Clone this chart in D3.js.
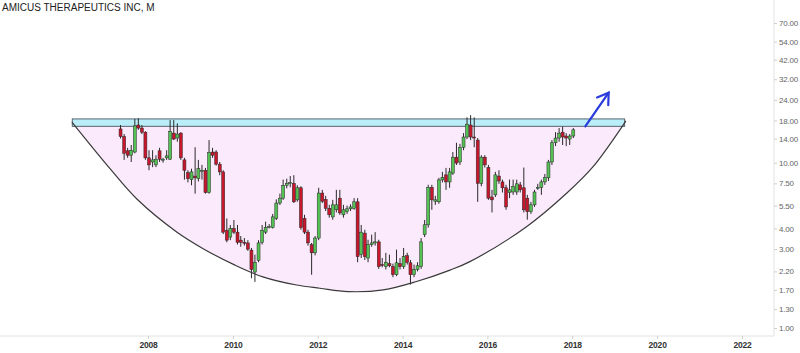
<!DOCTYPE html>
<html>
<head>
<meta charset="utf-8">
<script src="https://cdn.jsdelivr.net/npm/d3@7"></script>
<style>
  body { margin: 0; background: #fff; }
  svg { display: block; }
  .title { font-family: "Liberation Sans", Arial, sans-serif; font-size: 10px; fill: #222; }
  .y-axis text { font-family: "Liberation Sans", Arial, sans-serif; font-size: 8px; letter-spacing: -0.2px; fill: #666; }
  .x-axis text { font-family: "Liberation Sans", Arial, sans-serif; font-size: 8.5px; font-weight: bold; letter-spacing: -0.2px; fill: #333; }
</style>
</head>
<body>
<svg id="chart"></svg>
<script>
// monthly candles, first one is May 2007
const firstMonth = "2007-05-01";

const opens = [
  16.0, 14.4, 11.8, 11.1, 11.6, 16.9, 16.2, 15.3, 10.7, 10.1,
  9.7, 11.8, 10.4, 10.7, 10.5, 15.1, 14.1, 15.1, 10.4, 8.7,
  7.9, 8.3, 8.0, 8.9, 9.0, 6.6, 11.6, 11.6, 9.8, 8.8,
  3.9, 3.55, 4.0, 3.8, 3.4, 3.3, 3.27, 2.96, 2.18, 2.57,
  3.3, 3.8, 4.05, 4.05, 4.6, 5.7, 6.1, 7.3, 7.5, 7.5,
  5.96, 7.05, 4.6, 3.8, 3.19, 2.85, 3.5, 6.55, 6.0, 5.3,
  4.7, 5.19, 6.1, 4.84, 5.05, 5.26, 5.3, 5.8, 2.78, 3.75,
  2.65, 3.19, 3.27, 3.32, 2.42, 2.35, 2.45, 2.35, 2.1, 2.45,
  2.35, 2.74, 2.48, 2.1, 2.26, 2.35, 3.67, 4.21, 7.1, 5.85,
  5.8, 7.87, 8.44, 7.65, 8.65, 10.8, 10.1, 12.4, 14.3, 16.9,
  14.3, 13.7, 7.5, 10.8, 9.35, 6.2, 6.39, 8.3, 7.65, 7.05,
  6.6, 6.65, 6.65, 7.34, 7.05, 6.1, 5.05, 5.56, 7.05, 7.1,
  7.65, 8.1, 10.1, 13.2, 14.1, 15.3, 14.5, 13.9, 14.5
];
const highs = [
  16.9, 14.9, 12.3, 12.8, 18.4, 18.6, 16.9, 15.5, 11.9, 11.9,
  11.1, 12.3, 10.7, 11.9, 18.1, 18.1, 17.3, 15.3, 10.7, 9.0,
  9.2, 12.4, 10.4, 9.7, 9.3, 13.7, 12.3, 11.9, 10.1, 9.0,
  4.6, 4.2, 4.5, 4.2, 3.6, 3.5, 3.4, 3.05, 2.78, 3.4,
  4.2, 4.4, 4.25, 4.9, 6.0, 6.5, 7.9, 8.0, 8.3, 8.4,
  7.3, 7.2, 4.84, 3.93, 3.27, 3.6, 7.05, 6.85, 6.3, 5.56,
  5.96, 6.85, 6.85, 5.56, 5.5, 5.6, 6.1, 6.1, 4.2, 3.93,
  3.42, 3.67, 3.8, 3.42, 2.65, 2.85, 2.78, 2.45, 2.98, 2.65,
  3.05, 2.85, 2.58, 2.42, 2.5, 3.5, 4.5, 7.35, 7.35, 6.3,
  8.1, 8.8, 9.3, 9.3, 11.6, 13.2, 13.0, 15.1, 18.8, 19.4,
  18.8, 14.1, 11.1, 11.1, 9.7, 6.85, 8.8, 9.0, 7.9, 7.35,
  7.9, 7.9, 7.9, 7.65, 9.35, 6.39, 5.8, 6.85, 7.45, 7.9,
  8.55, 10.4, 13.7, 15.3, 16.2, 16.5, 15.1, 14.9, 16.2
];
const lows = [
  14.0, 10.4, 10.7, 10.1, 11.4, 15.8, 14.9, 10.4, 9.0, 9.4,
  9.4, 10.1, 10.0, 10.4, 10.4, 13.7, 13.4, 10.4, 7.9, 7.6,
  7.3, 6.5, 7.7, 7.9, 6.5, 6.5, 10.7, 9.6, 8.4, 3.7,
  3.3, 3.4, 3.7, 3.2, 3.1, 3.15, 2.93, 2.0, 1.9, 2.5,
  3.2, 3.7, 4.0, 4.0, 4.5, 5.55, 5.96, 7.0, 7.1, 5.7,
  5.8, 3.93, 3.7, 3.15, 2.1, 2.75, 3.4, 5.7, 5.1, 4.65,
  4.52, 5.0, 4.84, 4.65, 4.9, 5.1, 5.19, 2.5, 2.65, 2.58,
  2.5, 3.1, 3.15, 2.28, 2.33, 2.26, 2.33, 2.03, 2.06, 2.26,
  2.28, 2.42, 1.83, 2.03, 2.2, 2.28, 3.55, 4.05, 5.19, 5.56,
  5.65, 7.6, 6.85, 7.05, 8.44, 9.69, 9.69, 11.9, 13.9, 13.7,
  12.4, 5.8, 7.2, 9.35, 5.96, 5.0, 6.2, 7.45, 6.6, 5.19,
  6.1, 6.39, 6.39, 6.6, 5.0, 4.52, 4.9, 5.4, 6.85, 6.39,
  7.34, 7.75, 9.69, 12.6, 13.4, 12.8, 12.6, 12.8, 14.1
];
const closes = [
  14.4, 11.4, 11.1, 11.9, 16.7, 16.2, 15.3, 10.7, 9.7, 10.4,
  10.5, 10.5, 10.5, 11.0, 15.5, 13.9, 14.9, 10.7, 9.0, 8.0,
  8.8, 8.1, 9.2, 9.0, 6.6, 11.5, 11.1, 9.8, 8.8, 3.8,
  3.4, 4.0, 3.8, 3.3, 3.3, 3.28, 3.0, 2.26, 2.5, 3.27,
  3.9, 4.05, 4.1, 4.7, 5.7, 6.1, 7.3, 7.5, 7.6, 5.8,
  7.05, 4.05, 3.8, 3.27, 2.85, 3.5, 6.55, 5.85, 5.3, 4.84,
  5.56, 5.56, 4.97, 5.19, 5.26, 5.4, 5.8, 2.7, 3.8, 2.7,
  3.19, 3.27, 3.32, 2.35, 2.4, 2.5, 2.38, 2.1, 2.48, 2.35,
  2.7, 2.5, 2.1, 2.26, 2.38, 3.32, 4.21, 7.1, 5.96, 5.96,
  7.87, 8.15, 7.65, 8.8, 10.8, 9.95, 12.4, 14.3, 17.1, 14.3,
  14.1, 7.5, 10.8, 9.7, 6.1, 5.96, 8.44, 7.75, 7.05, 5.4,
  6.85, 7.2, 7.45, 6.85, 5.19, 5.05, 5.56, 6.65, 7.1, 7.65,
  8.15, 10.1, 13.2, 14.1, 15.1, 14.3, 14.1, 14.5, 15.8
];

const priceTicks = [100, 70, 54, 42, 32, 24, 18, 14, 10, 7.5, 5.5, 4, 3, 2.2, 1.7, 1.3, 1];
const yearTicks = ["2008", "2010", "2012", "2014", "2016", "2018", "2020", "2022"];

// rounding bottom drawn by hand on the chart
const cupDates = ["2006-03-17", "2007-02-08", "2007-09-25", "2008-09-04", "2009-04-20",
  "2010-01-19", "2010-09-16", "2011-07-03", "2012-01-20", "2012-09-18", "2013-07-18",
  "2014-05-01", "2015-02-13", "2015-08-03", "2016-12-03", "2017-11-13", "2018-06-29",
  "2019-02-15", "2019-04-07"];
const cupPrices = [17.6, 9.2, 6.05, 3.81, 3.02, 2.40, 2.04, 1.82, 1.74, 1.66, 1.70,
  1.91, 2.24, 2.52, 4.10, 6.53, 9.46, 15.8, 17.9];

// resistance band
const bandDates = ["2006-03-20", "2019-03-28"];
const bandPrices = [16.6, 18.4];

// breakout arrow
const arrowDates = ["2018-04-23", "2018-11-10"];
const arrowPrices = [16.6, 26.5];

const title = "AMICUS THERAPEUTICS INC, M";

const width = 800, height = 353;
const plotRight = 774, plotBottom = 336;
const parse = d3.timeParse("%Y-%m-%d");

const svg = d3.select("#chart")
  .attr("width", width)
  .attr("height", height);

const xScale = d3.scaleTime()
  .domain([parse("2008-01-01"), parse("2022-01-01")])
  .range([148, 742]);

const yScale = d3.scaleLog()
  .domain([1, 70])
  .range([328, 23]);

const start = parse(firstMonth);
const candles = opens.map((o, i) => ({
  date: d3.timeMonth.offset(start, i),
  open: o, high: highs[i], low: lows[i], close: closes[i]
}));

// cup fill and outline
const cup = cupDates.map((d, i) => ({date: parse(d), price: cupPrices[i]}));
const cupLine = d3.line()
  .x(d => xScale(d.date))
  .y(d => yScale(d.price))
  .curve(d3.curveCatmullRom);

svg.append("path")
  .attr("d", cupLine(cup) + "Z")
  .attr("fill", "#fbeafb");

// band
const bx0 = xScale(parse(bandDates[0])), bx1 = xScale(parse(bandDates[1]));
svg.append("rect")
  .attr("x", bx0)
  .attr("y", yScale(bandPrices[1]))
  .attr("width", bx1 - bx0)
  .attr("height", yScale(bandPrices[0]) - yScale(bandPrices[1]))
  .attr("fill", "#b9edf7")
  .attr("stroke", "#4a5563")
  .attr("stroke-width", 0.9);

// axes
svg.append("line")
  .attr("x1", 0).attr("x2", plotRight)
  .attr("y1", plotBottom).attr("y2", plotBottom)
  .attr("stroke", "#e2e2e2");
svg.append("line")
  .attr("x1", plotRight).attr("x2", plotRight)
  .attr("y1", 0).attr("y2", plotBottom)
  .attr("stroke", "#e2e2e2");

const yAxis = d3.axisRight(yScale)
  .tickValues(priceTicks)
  .tickFormat(d3.format(".2f"))
  .tickSize(3)
  .tickPadding(2);

svg.append("g")
  .attr("class", "y-axis")
  .attr("transform", `translate(${plotRight},0)`)
  .call(yAxis)
  .call(g => g.select(".domain").remove())
  .call(g => g.selectAll(".tick line").attr("stroke", "#cfcfcf"));

const xAxis = d3.axisBottom(xScale)
  .tickValues(yearTicks.map(y => parse(y + "-01-01")))
  .tickFormat(d3.timeFormat("%Y"))
  .tickSize(3)
  .tickPadding(3);

svg.append("g")
  .attr("class", "x-axis")
  .attr("transform", `translate(0,${plotBottom})`)
  .call(xAxis)
  .call(g => g.select(".domain").remove())
  .call(g => g.selectAll(".tick line").attr("stroke", "#cfcfcf"));

// candles
const bodyW = 3;
const cg = svg.append("g");
cg.selectAll(".wick")
  .data(candles)
  .join("line")
  .attr("class", "wick")
  .attr("x1", d => xScale(d.date) + 1)
  .attr("x2", d => xScale(d.date) + 1)
  .attr("y1", d => yScale(d.high))
  .attr("y2", d => yScale(d.low))
  .attr("stroke", "#2a2a2a")
  .attr("stroke-width", 1);

cg.selectAll(".body")
  .data(candles)
  .join("rect")
  .attr("class", "body")
  .attr("x", d => xScale(d.date) + 1 - bodyW / 2)
  .attr("width", bodyW)
  .attr("y", d => yScale(Math.max(d.open, d.close)))
  .attr("height", d => Math.max(1, Math.abs(yScale(d.open) - yScale(d.close))))
  .attr("fill", d => d.close >= d.open ? "#55c155" : "#c8172d")
  .attr("stroke", "#262626")
  .attr("stroke-width", 0.5);

// cup outline
svg.append("path")
  .attr("d", cupLine(cup))
  .attr("fill", "none")
  .attr("stroke", "#3a3a3a")
  .attr("stroke-width", 1.2);

// arrow
svg.append("defs").append("marker")
  .attr("id", "head")
  .attr("markerUnits", "userSpaceOnUse")
  .attr("viewBox", "-12 -8 14 16")
  .attr("refX", 0).attr("refY", 0)
  .attr("markerWidth", 14).attr("markerHeight", 16)
  .attr("orient", "auto")
  .append("path")
  .attr("d", "M-10.5,-6.8L0,0L-10.5,6.8")
  .attr("fill", "none")
  .attr("stroke", "#2b3bdc")
  .attr("stroke-width", 2.2)
  .attr("stroke-linecap", "round");

svg.append("line")
  .attr("x1", xScale(parse(arrowDates[0])))
  .attr("y1", yScale(arrowPrices[0]))
  .attr("x2", xScale(parse(arrowDates[1])))
  .attr("y2", yScale(arrowPrices[1]))
  .attr("stroke", "#2b3bdc")
  .attr("stroke-width", 2.2)
  .attr("stroke-linecap", "round")
  .attr("marker-end", "url(#head)");

// title
svg.append("text")
  .attr("class", "title")
  .attr("x", 2)
  .attr("y", 11)
  .text(title);
</script>
</body>
</html>
